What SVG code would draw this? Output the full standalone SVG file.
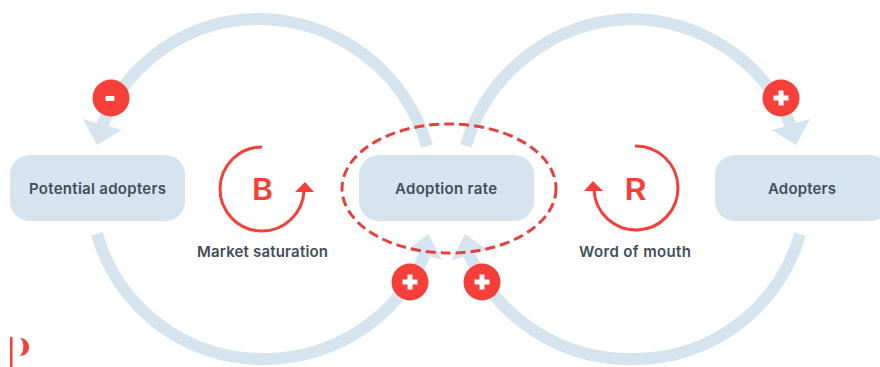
<svg xmlns="http://www.w3.org/2000/svg" width="880" height="367" viewBox="0 0 880 367">
<style>
.box{fill:#d6e4ef}
.arc{fill:none;stroke:#d6e4ef;stroke-width:12}
.head{fill:#d6e4ef}
.badge{fill:#f63f38}
.sign{fill:#fff}
.loop{fill:none;stroke:#f63f38;stroke-width:3}
.tip{fill:#f63f38}
.lbl{font-family:Inter,"Open Sans",sans-serif;font-size:15px;font-weight:600;fill:#434e58;text-anchor:middle}
.big{font-family:Inter,"Open Sans",sans-serif;font-size:30px;font-weight:600;fill:#f63f38;text-anchor:middle}
</style>
<rect width="880" height="367" fill="#fff"/>
<g id="connectors">
<path class="arc" d="M427 146A176 176 0 0 0 258 19A168 168 0 0 0 102 126"/>
<polygon class="head" points="83,119 122,130 97,145"/>
<path class="arc" d="M466 146A176 176 0 0 1 630 19A175 175 0 0 1 791 126"/>
<polygon class="head" points="810,119 772,130 796,145"/>
<path class="arc" d="M97 234A172 172 0 0 0 262 359A176 176 0 0 0 425 254"/>
<polygon class="head" points="428,234 442,260 408,250"/>
<path class="arc" d="M800 234A172 172 0 0 1 635 359A176 176 0 0 1 469 254"/>
<polygon class="head" points="465,234 452,260 487,250"/>
</g>
<g id="node-potential-adopters"><rect class="box" x="10" y="155" width="175" height="66" rx="20"/><text class="lbl" x="97.500" y="194" textLength="137">Potential adopters</text></g>
<g id="node-adoption-rate"><rect class="box" x="359" y="155" width="175" height="66" rx="20"/><text class="lbl" x="446" y="194" textLength="102">Adoption rate</text></g>
<g id="node-adopters"><rect class="box" x="715" y="155" width="175" height="66" rx="20"/><text class="lbl" x="802" y="194" textLength="68">Adopters</text></g>
<g id="highlight"><ellipse cx="449" cy="188.500" rx="107" ry="64.500" fill="none" stroke="#e5413d" stroke-width="3" stroke-dasharray="10 5"/></g>
<g id="badge-minus"><circle class="badge" cx="111" cy="98" r="18.500"/><rect class="sign" x="105.500" y="96" width="9" height="5" rx="1"/></g>
<g id="badge-plus-top"><circle class="badge" cx="781" cy="98" r="18.500"/><path class="sign" d="M778.500 90.500h5v5h5v5h-5v5h-5v-5h-5v-5h5z"/></g>
<g id="badge-plus-left"><circle class="badge" cx="410" cy="282" r="18.500"/><path class="sign" d="M407.500 274.500h5v5h5v5h-5v5h-5v-5h-5v-5h5z"/></g>
<g id="badge-plus-right"><circle class="badge" cx="482" cy="282" r="18.500"/><path class="sign" d="M479.500 274.500h5v5h5v5h-5v5h-5v-5h-5v-5h5z"/></g>
<g id="loop-b">
<path class="loop" d="M262 147A42 42 0 1 0 304 190"/>
<polygon class="tip" points="295,192 314,192 305,182"/>
<text class="big" x="262.500" y="200" textLength="21" lengthAdjust="spacingAndGlyphs">B</text>
<text class="lbl" x="262.500" y="257" textLength="131">Market saturation</text>
</g>
<g id="loop-r">
<path class="loop" d="M635 146A42 42 0 1 1 594 190"/>
<polygon class="tip" points="584,191 603,191 593,181"/>
<text class="big" x="635.500" y="200" textLength="22" lengthAdjust="spacingAndGlyphs">R</text>
<text class="lbl" x="635" y="257" textLength="112">Word of mouth</text>
</g>
<g id="logo">
<rect class="tip" x="10" y="337" width="2.500" height="30"/>
<path class="tip" d="M20 338C25.500 338 29 342 29 347C29 352 25.500 356 20 356C24 352 25 342 20 338Z"/>
</g>
</svg>
